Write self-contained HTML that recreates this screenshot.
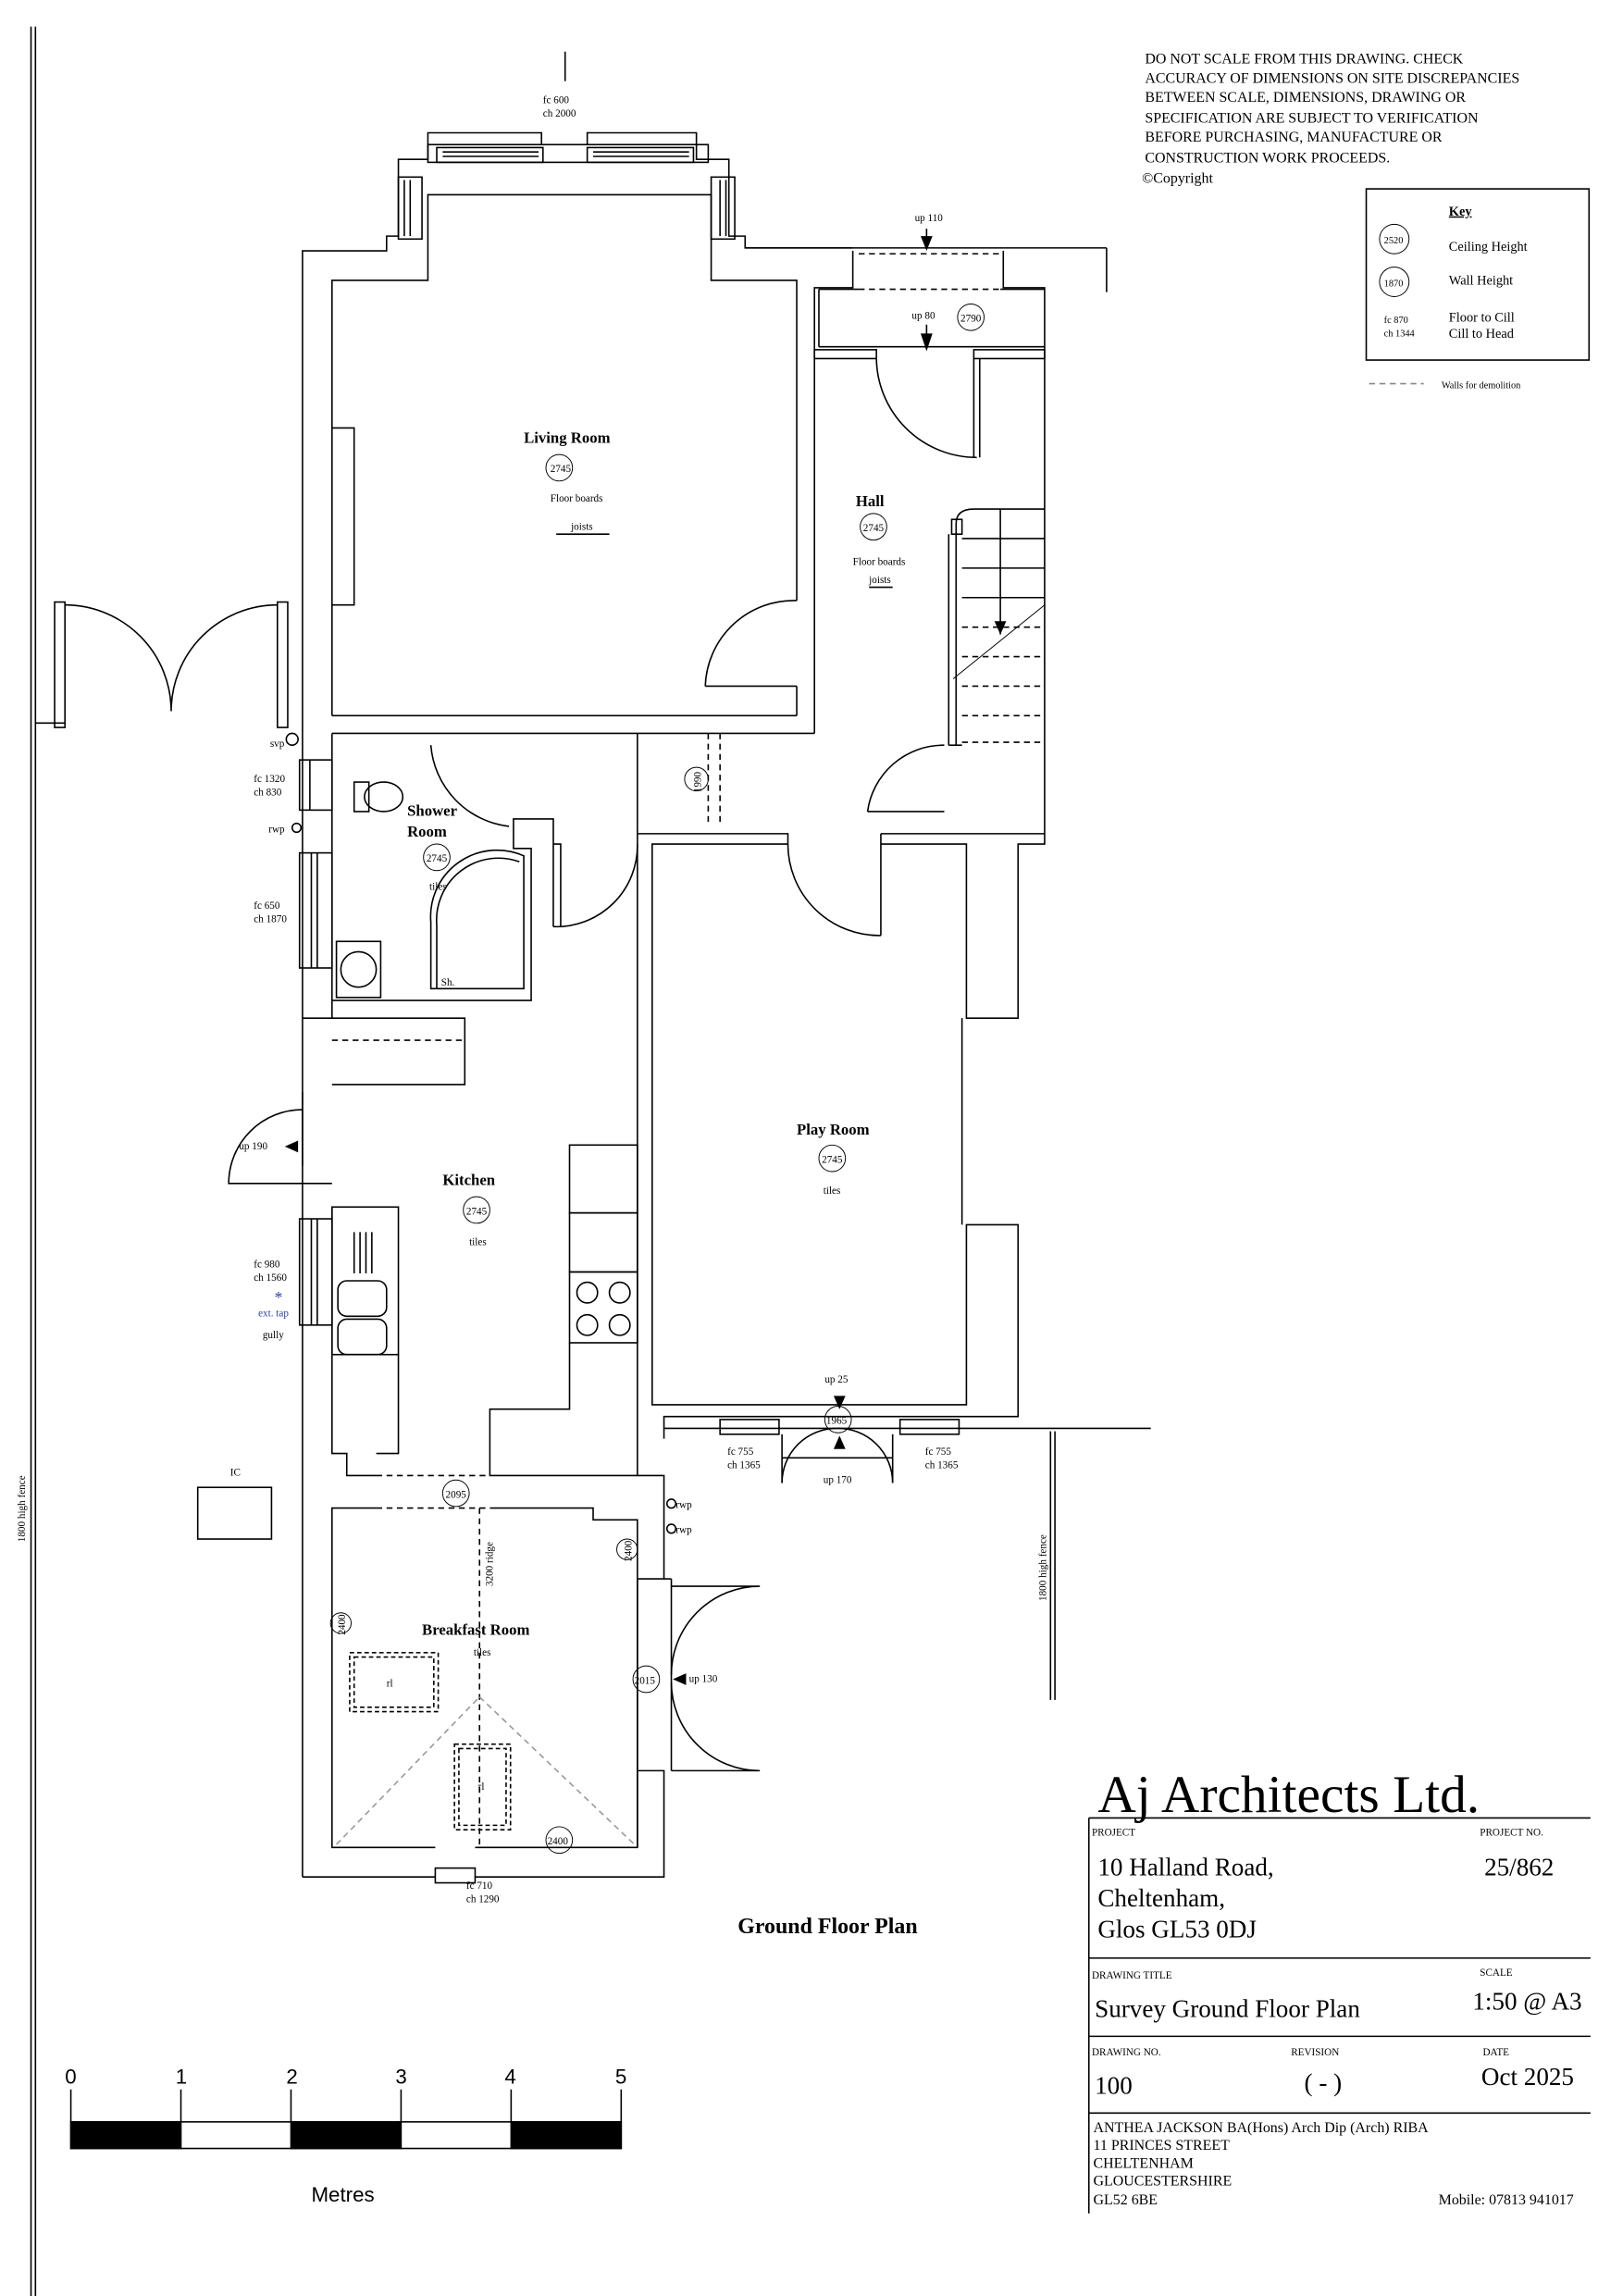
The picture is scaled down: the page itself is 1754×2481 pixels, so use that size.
<!DOCTYPE html>
<html><head><meta charset="utf-8">
<style>
html,body{margin:0;padding:0;background:#fff;}
svg{display:block;}
text{font-family:"Liberation Serif",serif;fill:#000;}
.s{font-size:7px;}
.lbl{font-size:10.5px;font-weight:bold;}
</style></head>
<body>
<svg width="1754" height="2481" viewBox="0 0 1100 1556" xmlns="http://www.w3.org/2000/svg">
<rect width="1100" height="1556" fill="#fff"/>
<g fill="none" stroke="#000" stroke-width="1">
<!-- boundary fence -->
<line x1="21" y1="18" x2="21" y2="1556"/><line x1="24" y1="18" x2="24" y2="1556"/>
<line x1="383" y1="35" x2="383" y2="55"/>
<!-- living room bay outer -->
<polyline points="205,1272 205,170 262,170 262,160 270,160 270,108 290,108 290,90 367,90 367,98"/>
<polyline points="398,98 398,90 472,90 472,108 494,108 494,160 505,160 505,168 578,168"/>
<rect x="290" y="98" width="190" height="12"/>
<rect x="296" y="100" width="72" height="10"/><rect x="398" y="100" width="72" height="10"/>
<line x1="300" y1="103" x2="365" y2="103"/><line x1="300" y1="106" x2="365" y2="106"/>
<line x1="402" y1="103" x2="467" y2="103"/><line x1="402" y1="106" x2="467" y2="106"/>
<rect x="270" y="120" width="16" height="42"/><line x1="274" y1="122" x2="274" y2="160"/><line x1="278" y1="122" x2="278" y2="160"/>
<rect x="482" y="120" width="16" height="42"/><line x1="488" y1="122" x2="488" y2="160"/><line x1="492" y1="122" x2="492" y2="160"/>
<polyline points="225,485 225,190 290,190 290,132 482,132 482,190 540,190 540,407"/>
<polyline points="225,290 240,290 240,410 225,410"/>
<line x1="540" y1="465" x2="540" y2="485"/>
<!-- living room bottom wall -->
<line x1="225" y1="485" x2="540" y2="485"/><line x1="225" y1="497" x2="552" y2="497"/>
<line x1="432" y1="497" x2="432" y2="560"/>
<path d="M478,465 A60,60 0 0 1 540,407"/><line x1="478" y1="465" x2="540" y2="465"/>
<!-- hall -->
<polyline points="552,497 552,195 578,195 578,170"/>
<polyline points="680,170 680,195 708,195 708,565 597,565"/>
<polyline points="505,168 578,168"/>
<polyline points="578,168 680,168"/><line x1="582" y1="172" x2="678" y2="172" stroke-dasharray="4,3"/>
<line x1="680" y1="168" x2="750" y2="168"/><line x1="750" y1="168" x2="750" y2="198"/>
<line x1="582" y1="196" x2="678" y2="196" stroke-dasharray="4,3"/>
<line x1="555" y1="196" x2="582" y2="196"/><line x1="678" y1="196" x2="708" y2="196"/>
<line x1="555" y1="196" x2="555" y2="235"/>
<line x1="555" y1="235" x2="708" y2="235"/>
<rect x="552" y="237" width="42" height="6"/><rect x="660" y="237" width="48" height="6"/>
<path d="M594,243 A68,68 0 0 0 662,310"/><line x1="660" y1="243" x2="660" y2="310"/><line x1="664" y1="243" x2="664" y2="310"/>
<!-- stairs -->
<path d="M648,505 L648,355 Q648,345 660,345 L708,345"/>
<rect x="645" y="352" width="7" height="10"/>
<line x1="643" y1="362" x2="643" y2="505"/>
<path d="M652,365 L708,365 M652,385 L708,385 M652,405 L708,405"/>
<g stroke-dasharray="4,3"><path d="M652,425 L708,425 M652,445 L708,445 M652,465 L708,465 M652,485 L708,485 M652,503 L708,503"/></g>
<line x1="678" y1="345" x2="678" y2="430"/>
<line x1="646" y1="460" x2="708" y2="410" stroke-width="0.6"/>
<line x1="643" y1="505" x2="652" y2="505"/>
<path d="M588,550 A52,52 0 0 1 640,505"/><line x1="588" y1="550" x2="640" y2="550"/>
<!-- play room -->
<polyline points="432,560 432,1000 450,1000 450,1070 432,1070 432,1252"/>
<polyline points="534,572 442,572 442,952 655,952 655,830 690,830 690,960 450,960 450,975"/>
<polyline points="432,565 534,565 534,572"/>
<polyline points="597,572 597,565"/>
<polyline points="597,572 655,572 655,690 690,690 690,572 708,572 708,565"/>
<line x1="652" y1="690" x2="652" y2="830"/>
<path d="M534,572 A62,62 0 0 0 597,634"/><line x1="597" y1="572" x2="597" y2="634"/>
<line x1="480" y1="497" x2="480" y2="560" stroke-dasharray="4,3"/>
<line x1="488" y1="497" x2="488" y2="560" stroke-dasharray="4,3"/>
<rect x="488" y="962" width="40" height="10"/><rect x="610" y="962" width="40" height="10"/>
<line x1="450" y1="968" x2="780" y2="968"/>
<line x1="530" y1="972" x2="530" y2="1005"/><line x1="605" y1="972" x2="605" y2="1005"/>
<line x1="530" y1="988" x2="605" y2="988"/>
<path d="M530,1005 A37,37 0 0 1 567,968 A37,37 0 0 1 605,1005"/>
<line x1="712" y1="970" x2="712" y2="1152"/><line x1="715" y1="970" x2="715" y2="1152"/>
<!-- shower room -->
<polyline points="225,497 225,678 360,678 360,575 348,575 348,555 375,555 375,628"/>
<polyline points="375,572 380,572 380,628"/>
<path d="M375,628 A55,55 0 0 0 432,572"/>
<rect x="228" y="638" width="30" height="38"/><circle cx="243" cy="657" r="12"/>
<path d="M292,670 L292,625 A45,45 0 0 1 355,580 L355,670 Z"/>
<path d="M296,670 L296,627 A42,42 0 0 1 352,584"/>
<rect x="240" y="530" width="10" height="20"/><ellipse cx="260" cy="540" rx="13" ry="10"/>
<path d="M292,505 A60,60 0 0 0 345,560"/>
<!-- windows left -->
<rect x="203" y="515" width="22" height="34"/><line x1="210" y1="515" x2="210" y2="549"/>
<rect x="203" y="578" width="22" height="78"/><line x1="211" y1="578" x2="211" y2="656"/><line x1="215" y1="578" x2="215" y2="656"/>
<rect x="203" y="826" width="22" height="72"/><line x1="211" y1="826" x2="211" y2="898"/><line x1="215" y1="826" x2="215" y2="898"/>
<circle cx="198" cy="501" r="4"/><circle cx="201" cy="561" r="3"/>
<!-- kitchen -->
<polyline points="225,678 225,690 315,690 315,735 225,735"/>
<line x1="225" y1="705" x2="315" y2="705" stroke-dasharray="4,3"/>
<line x1="205" y1="690" x2="225" y2="690"/>
<line x1="205" y1="740" x2="205" y2="790"/>
<path d="M205,752 A50,50 0 0 0 155,802 L205,802"/>
<line x1="205" y1="802" x2="225" y2="802"/>
<rect x="225" y="818" width="45" height="100"/>
<rect x="229" y="868" width="33" height="24" rx="6"/><rect x="229" y="894" width="33" height="24" rx="6"/>
<path d="M240,835 v28 M244,835 v28 M248,835 v28 M252,835 v28"/>
<polyline points="225,818 225,985 235,985 235,1000 255,1000"/>
<polyline points="270,918 270,985 255,985"/>
<rect x="386" y="776" width="46" height="46"/><rect x="386" y="822" width="46" height="40"/>
<rect x="386" y="862" width="46" height="48"/>
<circle cx="398" cy="876" r="7"/><circle cx="420" cy="876" r="7"/><circle cx="398" cy="898" r="7"/><circle cx="420" cy="898" r="7"/>
<polyline points="386,910 386,955 332,955 332,1000 432,1000"/>
<line x1="255" y1="1000" x2="332" y2="1000" stroke-dasharray="4,3"/>
<line x1="255" y1="1022" x2="332" y2="1022" stroke-dasharray="4,3"/>
<!-- breakfast room -->
<polyline points="255,1022 225,1022 225,1252 295,1252"/>
<polyline points="332,1022 402,1022 402,1030 432,1030 432,1070"/>
<line x1="325" y1="1022" x2="325" y2="1252" stroke-dasharray="4,3"/>
<polyline points="205,1272 295,1272"/><polyline points="322,1272 450,1272 450,1200 432,1200 432,1252 322,1252"/>
<rect x="295" y="1266" width="27" height="10"/>
<line x1="432" y1="1070" x2="432" y2="1200"/>
<line x1="450" y1="1070" x2="455" y2="1070"/><line x1="455" y1="1070" x2="455" y2="1200"/>
<path d="M455,1075 L515,1075 A60,60 0 0 0 455,1135"/>
<path d="M455,1200 L515,1200 A60,60 0 0 1 455,1140"/>
<rect x="237" y="1120" width="60" height="40" stroke-dasharray="3,2"/>
<rect x="240" y="1123" width="54" height="34" stroke-dasharray="3,2"/>
<rect x="308" y="1182" width="38" height="58" stroke-dasharray="3,2"/>
<rect x="311" y="1185" width="32" height="52" stroke-dasharray="3,2"/>
<g stroke="#999" stroke-dasharray="4,3"><line x1="228" y1="1250" x2="325" y2="1150"/><line x1="325" y1="1150" x2="430" y2="1250"/></g>
<!-- patio doors left -->
<rect x="37" y="408" width="7" height="85"/><rect x="188" y="408" width="7" height="85"/>
<path d="M44,410 A72,72 0 0 1 116,482 A72,72 0 0 1 188,410"/>
<line x1="24" y1="490" x2="44" y2="490"/>
<rect x="134" y="1008" width="50" height="35"/>
<!-- circles -->
<g stroke-width="0.6">
<circle cx="379" cy="317" r="9"/><circle cx="592" cy="357" r="9"/><circle cx="658" cy="215" r="9"/>
<circle cx="296" cy="581" r="9"/><circle cx="323" cy="820" r="9"/><circle cx="564" cy="785" r="9"/>
<circle cx="568" cy="962" r="9"/><circle cx="309" cy="1012" r="9"/><circle cx="438" cy="1138" r="9"/>
<circle cx="425" cy="1050" r="7"/><circle cx="231" cy="1100" r="7"/><circle cx="379" cy="1247" r="9"/>
<circle cx="472" cy="528" r="8"/>
<circle cx="945" cy="162" r="10"/><circle cx="945" cy="191" r="10"/>
</g>
<circle cx="455" cy="1019" r="3"/><circle cx="455" cy="1036" r="3"/>
<line x1="377" y1="362" x2="413" y2="362"/><line x1="589" y1="398" x2="605" y2="398"/>
<!-- key -->
<rect x="926" y="128" width="151" height="116"/>
<line x1="928" y1="260" x2="965" y2="260" stroke-dasharray="4,3" stroke="#888"/>
<!-- title block -->
<line x1="738" y1="1232" x2="1078" y2="1232"/><line x1="738" y1="1327" x2="1078" y2="1327"/>
<line x1="738" y1="1380" x2="1078" y2="1380"/><line x1="738" y1="1432" x2="1078" y2="1432"/>
<line x1="738" y1="1232" x2="738" y2="1500"/>
<line x1="628" y1="155" x2="628" y2="168"/><line x1="628" y1="220" x2="628" y2="232"/>
</g>
<!-- arrows -->
<g fill="#000">
<polygon points="628,170 624,160 632,160"/><polygon points="628,238 624,226 632,226"/><polygon points="569,955 565,946 573,946"/><polygon points="569,973 565,982 573,982"/>
<polygon points="193,777 202,773 202,781"/><polygon points="456,1138 465,1134 465,1142"/><polygon points="678,430 674,421 682,421"/>
</g>
<!-- scale bar -->
<g stroke="#000" stroke-width="1">
<rect x="48" y="1438" width="373" height="18" fill="#fff"/>
<rect x="48" y="1438" width="74.6" height="18" fill="#000"/>
<rect x="197.2" y="1438" width="74.6" height="18" fill="#000"/>
<rect x="346.4" y="1438" width="74.6" height="18" fill="#000"/>
<line x1="48" y1="1416" x2="48" y2="1438"/><line x1="122.6" y1="1416" x2="122.6" y2="1438"/><line x1="197.2" y1="1416" x2="197.2" y2="1438"/><line x1="271.8" y1="1416" x2="271.8" y2="1438"/><line x1="346.4" y1="1416" x2="346.4" y2="1438"/><line x1="421" y1="1416" x2="421" y2="1438"/>
</g>
<g style="font-family:'Liberation Sans',sans-serif;font-size:14px">
<text x="44" y="1412" style="font-family:'Liberation Sans',sans-serif">0</text><text x="119" y="1412" style="font-family:'Liberation Sans',sans-serif">1</text><text x="194" y="1412" style="font-family:'Liberation Sans',sans-serif">2</text><text x="268" y="1412" style="font-family:'Liberation Sans',sans-serif">3</text><text x="342" y="1412" style="font-family:'Liberation Sans',sans-serif">4</text><text x="417" y="1412" style="font-family:'Liberation Sans',sans-serif">5</text>
<text x="211" y="1492" style="font-family:'Liberation Sans',sans-serif">Metres</text>
</g>
<!-- labels -->
<text x="355" y="300" class="lbl">Living Room</text>
<text x="373" y="340" class="s">Floor boards</text><text x="387" y="359" class="s">joists</text>
<text x="580" y="343" class="lbl">Hall</text>
<text x="578" y="383" class="s">Floor boards</text><text x="589" y="395" class="s">joists</text>
<text x="276" y="553" class="lbl">Shower</text><text x="276" y="567" class="lbl">Room</text>
<text x="291" y="603" class="s">tiles</text><text x="299" y="668" class="s">Sh.</text>
<text x="300" y="803" class="lbl">Kitchen</text><text x="318" y="844" class="s">tiles</text>
<text x="540" y="769" class="lbl">Play Room</text><text x="558" y="809" class="s">tiles</text>
<text x="286" y="1108" class="lbl">Breakfast Room</text><text x="321" y="1122" class="s">tiles</text>
<text x="262" y="1143" class="s">rl</text><text x="324" y="1213" class="s">rl</text>
<text x="368" y="70" class="s">fc 600</text><text x="368" y="79" class="s">ch 2000</text>
<text x="620" y="150" class="s">up 110</text><text x="618" y="216" class="s">up 80</text>
<text x="373" y="320" class="s">2745</text><text x="585" y="360" class="s">2745</text><text x="651" y="218" class="s">2790</text>
<text x="289" y="584" class="s">2745</text><text x="316" y="823" class="s">2745</text><text x="557" y="788" class="s">2745</text>
<text x="560" y="965" class="s">1965</text><text x="302" y="1015" class="s">2095</text><text x="430" y="1141" class="s">2015</text><text x="371" y="1250" class="s">2400</text>
<text x="559" y="937" class="s">up 25</text><text x="558" y="1005" class="s">up 170</text>
<text x="493" y="986" class="s">fc 755</text><text x="493" y="995" class="s">ch 1365</text>
<text x="627" y="986" class="s">fc 755</text><text x="627" y="995" class="s">ch 1365</text>
<text x="183" y="506" class="s">svp</text><text x="182" y="564" class="s">rwp</text>
<text x="172" y="530" class="s">fc 1320</text><text x="172" y="539" class="s">ch 830</text>
<text x="172" y="616" class="s">fc 650</text><text x="172" y="625" class="s">ch 1870</text>
<text x="162" y="779" class="s">up 190</text>
<text x="172" y="859" class="s">fc 980</text><text x="172" y="868" class="s">ch 1560</text>
<text x="175" y="892" class="s" style="fill:#2a3fae">ext. tap</text><text x="186" y="883" style="font-size:11px;fill:#2a3fae">*</text>
<text x="178" y="907" class="s">gully</text><text x="156" y="1000" class="s">IC</text>
<text x="458" y="1022" class="s">rwp</text><text x="458" y="1039" class="s">rwp</text>
<text x="467" y="1140" class="s">up 130</text>
<text x="316" y="1280" class="s">fc 710</text><text x="316" y="1289" class="s">ch 1290</text>
<text class="s" transform="translate(475,537) rotate(-90)">1990</text>
<text class="s" transform="translate(334,1075) rotate(-90)">3200 ridge</text>
<text class="s" transform="translate(428,1058) rotate(-90)">2400</text>
<text class="s" transform="translate(234,1108) rotate(-90)">2400</text>
<text class="s" transform="translate(709,1085) rotate(-90)">1800 high fence</text>
<text class="s" transform="translate(17,1045) rotate(-90)">1800 high fence</text>
<text x="500" y="1310" style="font-size:15px;font-weight:bold">Ground Floor Plan</text>
<!-- notes -->
<text x="776" y="43" style="font-size:10px">DO NOT SCALE FROM THIS DRAWING.  CHECK</text>
<text x="776" y="56" style="font-size:10px">ACCURACY OF DIMENSIONS ON SITE DISCREPANCIES</text>
<text x="776" y="69" style="font-size:10px">BETWEEN SCALE, DIMENSIONS, DRAWING OR</text>
<text x="776" y="83" style="font-size:10px">SPECIFICATION ARE SUBJECT TO VERIFICATION</text>
<text x="776" y="96" style="font-size:10px">BEFORE PURCHASING, MANUFACTURE OR</text>
<text x="776" y="110" style="font-size:10px">CONSTRUCTION WORK PROCEEDS.</text>
<text x="774" y="124" style="font-size:10px">©Copyright</text>
<text x="982" y="146" style="font-size:9px;font-weight:bold;text-decoration:underline">Key</text>
<text x="938" y="165" style="font-size:6.5px">2520</text><text x="938" y="194" style="font-size:6.5px">1870</text>
<text x="982" y="170" style="font-size:9px">Ceiling Height</text>
<text x="982" y="193" style="font-size:9px">Wall Height</text>
<text x="938" y="219" style="font-size:6.5px">fc 870</text><text x="938" y="228" style="font-size:6.5px">ch 1344</text>
<text x="982" y="218" style="font-size:9px">Floor to Cill</text><text x="982" y="229" style="font-size:9px">Cill to Head</text>
<text x="977" y="263" style="font-size:6.5px">Walls for demolition</text>
<!-- title block text -->
<text x="744" y="1228" style="font-size:36px">Aj Architects Ltd.</text>
<text x="740" y="1244" style="font-size:7px">PROJECT</text><text x="1003" y="1244" style="font-size:7px">PROJECT NO.</text>
<text x="744" y="1271" style="font-size:17px">10 Halland Road,</text>
<text x="744" y="1292" style="font-size:17px">Cheltenham,</text>
<text x="744" y="1313" style="font-size:17px">Glos GL53 0DJ</text>
<text x="1006" y="1271" style="font-size:17px">25/862</text>
<text x="740" y="1341" style="font-size:7px">DRAWING TITLE</text><text x="1003" y="1339" style="font-size:7px">SCALE</text>
<text x="742" y="1367" style="font-size:17px">Survey Ground Floor Plan</text>
<text x="998" y="1362" style="font-size:17px">1:50 @ A3</text>
<text x="740" y="1393" style="font-size:7px">DRAWING NO.</text><text x="875" y="1393" style="font-size:7px">REVISION</text><text x="1005" y="1393" style="font-size:7px">DATE</text>
<text x="742" y="1419" style="font-size:17px">100</text><text x="884" y="1417" style="font-size:17px">( - )</text><text x="1004" y="1413" style="font-size:17px">Oct  2025</text>
<text x="741" y="1445" style="font-size:10px">ANTHEA JACKSON BA(Hons) Arch Dip (Arch) RIBA</text>
<text x="741" y="1457" style="font-size:10px">11 PRINCES STREET</text>
<text x="741" y="1469" style="font-size:10px">CHELTENHAM</text>
<text x="741" y="1481" style="font-size:10px">GLOUCESTERSHIRE</text>
<text x="741" y="1494" style="font-size:10px">GL52 6BE</text>
<text x="975" y="1494" style="font-size:10px">Mobile: 07813 941017</text>
</svg>
</body></html>
